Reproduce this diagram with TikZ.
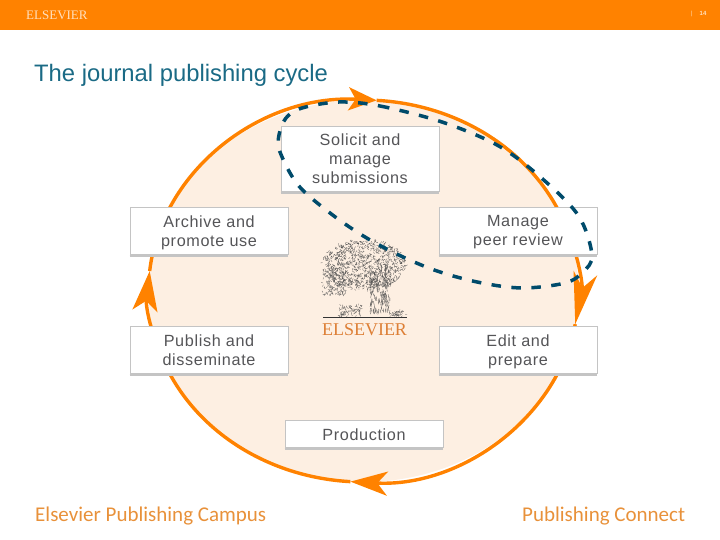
\documentclass[tikz,border=0pt]{standalone}
\usepackage{fontspec}
\usepackage{xcolor}
\setmainfont{Liberation Sans}
\newfontfamily\boxfont[LetterSpace=4]{Liberation Sans}
\newfontfamily\logofont{Liberation Serif}
\newfontfamily\footfont{Carlito}
\usetikzlibrary{calc,arrows.meta,positioning}
\definecolor{elsorange}{HTML}{FF8200}
\definecolor{peach}{HTML}{FDEFE2}
\definecolor{titleblue}{HTML}{1A6A85}
\definecolor{dashblue}{HTML}{004B6B}
\definecolor{boxgrey}{HTML}{C4C4C4}
\definecolor{boxtext}{HTML}{555558}
\definecolor{logoorange}{HTML}{DD7F36}
\definecolor{footorange}{HTML}{E8913A}

\begin{document}
\begin{tikzpicture}[x=1pt, y=1pt, >=Latex, cyclearrow/.style n args={3}{draw=elsorange, line width=3.4pt, -{Stealth[length=#1pt, width=#2pt, inset=#3pt]}}]
    % Define styles for boxes and footer
    \tikzstyle{block} = [draw=boxgrey, fill=white, rectangle, line width=0.8pt, minimum width=158pt, minimum height=47pt, inner sep=1pt, align=center, text=boxtext, font=\boxfont\fontsize{16.2}{19}\selectfont, text depth=0.7pt, execute at begin node=\strut, append after command={([yshift=-1.2pt]\tikzlastnode.south west) edge[draw=boxgrey, line width=1.4pt] ([yshift=-1.2pt]\tikzlastnode.south east)}]
    \tikzstyle{foot} = [inner sep=0pt, anchor=west, text=footorange, font=\footfont\fontsize{21}{24}\selectfont]
    \useasboundingbox (0,0) rectangle (720,540);

    % Header and title
    \fill[elsorange] (0,510) rectangle (720,540);
    \node [inner sep=0pt, anchor=west, text=white!75!elsorange, font=\logofont\fontsize{13}{14}\selectfont] (headerlogo) at (26,525) {ELSEVIER};
    \node [inner sep=0pt, text=white!75!elsorange, font=\fontsize{6}{7}\selectfont] (pagebar) at (692,526) {|};
    \node [inner sep=0pt, text=white!75!elsorange, font=\bfseries\fontsize{6}{7}\selectfont] (pagenum) at (703,527) {14};
    \node [inner sep=0pt, anchor=west, text=titleblue, font=\fontsize{23.8}{26}\selectfont] (title) at (34,464.5) {The journal publishing cycle};

    % Cycle ellipse and its four arrows
    \coordinate (center) at (363.5,249);
    \fill[peach] (center) ellipse [x radius=215, y radius=191];
    \coordinate (tipLeft) at ($(center)+(174:215pt and 191pt)$);
    \coordinate (tipTop) at ($(center)+(86.5:215pt and 191pt)$);
    \coordinate (tipRight) at ($(center)+(-10:215pt and 191pt)$);
    \coordinate (tipBottom) at ($(center)+(-93.5:215pt and 191pt)$);
    \draw[cyclearrow={28}{23}{7}] (tipLeft) arc [start angle=174, end angle=86.5, x radius=215, y radius=191];
    \draw[cyclearrow={52}{24}{15}] (tipTop) arc [start angle=86.5, end angle=-10, x radius=215, y radius=191];
    \draw[cyclearrow={37}{24}{10}] (tipRight) arc [start angle=-10, end angle=-93.5, x radius=215, y radius=191];
    \draw[cyclearrow={40}{25}{10}] (tipBottom) arc [start angle=-93.5, end angle=-186, x radius=215, y radius=191];

    % Nodes placement
    \node [block, minimum height=65pt] (solicit) at (360,381) {Solicit and\\manage\\submissions};
    \node [block] (archive) at (209,309) {Archive and\\promote use};
    \node [block, right of=archive, node distance=309pt] (manage) {Manage\\peer review};
    \node [block, below of=archive, node distance=119pt] (publish) {Publish and\\disseminate};
    \node [block, below of=manage, node distance=119pt] (edit) {Edit and\\prepare};
    \node [block, minimum height=27pt] (production) at (364,106) {Production};

    % Tree of the logo
    \pgfmathsetseed{14}
    \foreach \i in {1,...,1000} {
        \pgfmathsetmacro{\ang}{rnd*360}
        \pgfmathsetmacro{\rad}{sqrt(rnd)}
        \pgfmathsetmacro{\dir}{rnd*360}
        \pgfmathsetmacro{\px}{364+42*\rad*cos(\ang)}
        \pgfmathsetmacro{\py}{275+25*\rad*sin(\ang)}
        \draw[draw=black!70, line width=0.3pt] (\px,\py) -- ++(\dir:2pt);
    }
    \foreach \i in {1,...,170} {
        \pgfmathsetmacro{\px}{323+rnd*22}
        \pgfmathsetmacro{\py}{245+rnd*24}
        \pgfmathsetmacro{\dir}{rnd*360}
        \draw[draw=black!65, line width=0.3pt] (\px,\py) -- ++(\dir:2pt);
    }
    \foreach \i in {1,...,130} {
        \pgfmathsetmacro{\px}{369+rnd*21}
        \pgfmathsetmacro{\py}{224+rnd*46}
        \draw[draw=black!70, line width=0.35pt] (\px,\py) -- ++(-1.5+rnd*3,4);
    }
    \foreach \i in {1,...,90} {
        \pgfmathsetmacro{\px}{339+rnd*22}
        \pgfmathsetmacro{\py}{224+rnd*11}
        \pgfmathsetmacro{\dir}{rnd*360}
        \draw[draw=black!70, line width=0.3pt] (\px,\py) -- ++(\dir:1.8pt);
    }
    \foreach \i in {1,...,40} {
        \pgfmathsetmacro{\px}{390+rnd*16}
        \pgfmathsetmacro{\py}{224+rnd*5}
        \pgfmathsetmacro{\dir}{rnd*360}
        \draw[draw=black!70, line width=0.3pt] (\px,\py) -- ++(\dir:1.8pt);
    }
    \draw[draw=black!80, line width=0.7pt] (323,223) -- (407,223);
    \node [inner sep=0pt, text=logoorange, font=\logofont\fontsize{18}{19}\selectfont] (logo) at (364.5,210.5) {ELSEVIER};

    % Dashed loop over the boxes
    \draw[draw=dashblue, line width=3.5pt, dash pattern=on 9.5pt off 10.5pt] plot[smooth cycle, tension=0.55] coordinates {(339,438) (380,434) (442,418) (497,395) (538,365) (578,325) (592,285) (583,268) (565,257) (523,252) (482,257) (440,268) (403,283) (365,303) (330,327) (298,355) (280,388) (279,405) (286,422) (302,432)};

    % Footer
    \node [foot] (campus) at (35,24) {Elsevier Publishing Campus};
    \node [foot] (connect) at (522,24) {Publishing Connect};
\end{tikzpicture}
\end{document}
